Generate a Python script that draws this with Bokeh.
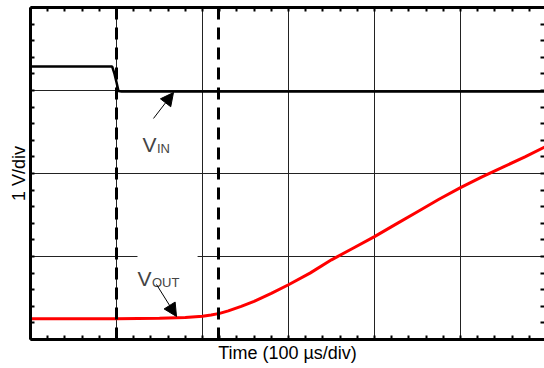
from bokeh.plotting import figure
from bokeh.models import (LinearAxis, FixedTicker, Span, Label, Arrow, NormalHead,
                          Range1d)
from bokeh.embed import file_html
from bokeh.resources import INLINE

FONT = "Liberation Sans"

# --- data (units: divisions) ---
vin_x = [0.0, 0.95, 0.977, 1.0, 1.023, 1.06, 1.5, 2.0, 3.0, 4.0, 5.0, 6.0]
vin_y = [3.289, 3.289, 3.2, 3.1, 2.995, 2.988, 2.988, 2.988, 2.988, 2.988, 2.988, 2.988]

vout_x = [0.0, 0.5, 1.0, 1.5, 1.8, 2.0, 2.1, 2.2, 2.3, 2.45, 2.6, 2.8, 3.0, 3.25,
          3.5, 3.75, 4.0, 4.25, 4.5, 4.75, 5.0, 5.25, 5.5, 5.75, 6.0]
vout_y = [0.25, 0.25, 0.25, 0.255, 0.265, 0.28, 0.295, 0.315, 0.345, 0.40, 0.46,
          0.555, 0.66, 0.80, 0.96, 1.10, 1.24, 1.39, 1.54, 1.69, 1.83, 1.96, 2.08,
          2.20, 2.33]

cursor_x = [1.0, 2.186]
x_grid = [1, 2, 3, 4, 5]
y_grid = [1, 2, 3]
x_ticks = [round(i * 0.2, 2) for i in range(31)]
y_ticks = [round(i * 0.2, 2) for i in range(21)]

# annotation anchors (divisions)
vin_label_pos = (1.302, 2.349)
vin_arrow = (1.43, 2.663, 1.663, 2.976)
vout_label_pos = (1.244, 0.735)
vout_arrow = (1.465, 0.663, 1.698, 0.277)

p = figure(width=544, height=368, x_range=Range1d(0, 5.977), y_range=Range1d(0, 4),
           output_backend="svg", toolbar_location=None,
           min_border_left=30, min_border_right=0, min_border_top=7, min_border_bottom=29,
           background_fill_color="white", border_fill_color="white")
p.outline_line_color = None

p.add_layout(LinearAxis(), "above")
p.add_layout(LinearAxis(), "right")

for ax in p.axis:
    ax.axis_line_width = 3
    ax.axis_line_color = "black"
    ax.major_tick_in = 4
    ax.major_tick_out = 0
    ax.minor_tick_in = 0
    ax.minor_tick_out = 0
    ax.major_tick_line_width = 2
    ax.major_tick_line_color = "black"
    ax.minor_tick_line_color = None
    ax.major_label_text_color = None
    ax.major_label_text_font_size = "1px"
    ax.major_label_standoff = 0
    ax.axis_label_standoff = 0
for ax in p.xaxis:
    ax.ticker = FixedTicker(ticks=x_ticks)
for ax in p.yaxis:
    ax.ticker = FixedTicker(ticks=y_ticks)
# the right edge of the screen is cut off in the original: ticks only
p.right[0].axis_line_color = None

p.below[0].axis_label = "Time (100 \u00b5s/div)"
p.left[0].axis_label = "1 V/div"
for ax in (p.below[0], p.left[0]):
    ax.axis_label_text_font = FONT
    ax.axis_label_text_font_size = "18px"
    ax.axis_label_text_font_style = "normal"
    ax.axis_label_text_color = "black"
p.below[0].axis_label_standoff = 3
p.left[0].axis_label_standoff = 2

p.xgrid.ticker = FixedTicker(ticks=x_grid)
p.ygrid.ticker = FixedTicker(ticks=y_grid)
p.xgrid.grid_line_color = "#222222"
p.ygrid.grid_line_color = "#222222"
p.xgrid.grid_line_width = 1
p.ygrid.grid_line_width = 1

for cx in cursor_x:
    p.add_layout(Span(location=cx, dimension="height", line_color="black",
                      line_width=3, line_dash="12 8"))

p.line(vin_x, vin_y, line_color="black", line_width=2.5)
p.line(vout_x, vout_y, line_color="#ff0000", line_width=3)

# white patch behind V_OUT (breaks the grid line like the original)
p.add_layout(Label(x=vout_label_pos[0], y=vout_label_pos[1], y_offset=4, text="VOUT",
                   text_font=FONT, text_font_size="13px", text_color="white",
                   background_fill_color="white", padding=12,
                   text_align="left", text_baseline="alphabetic"))

def sub_label(pos, sub):
    p.add_layout(Label(x=pos[0], y=pos[1], text="V", text_font=FONT,
                       text_font_size="21px", text_align="left",
                       text_baseline="alphabetic"))
    p.add_layout(Label(x=pos[0], y=pos[1], x_offset=14.5, y_offset=-4, text=sub,
                       text_font=FONT, text_font_size="13px", text_align="left",
                       text_baseline="alphabetic"))

sub_label(vin_label_pos, "IN")
sub_label(vout_label_pos, "OUT")

for a in (vin_arrow, vout_arrow):
    p.add_layout(Arrow(x_start=a[0], y_start=a[1], x_end=a[2], y_end=a[3],
                       line_width=1, line_color="black",
                       end=NormalHead(size=13, fill_color="black", line_color="black")))

open("out.html", "w").write(file_html(p, INLINE))
